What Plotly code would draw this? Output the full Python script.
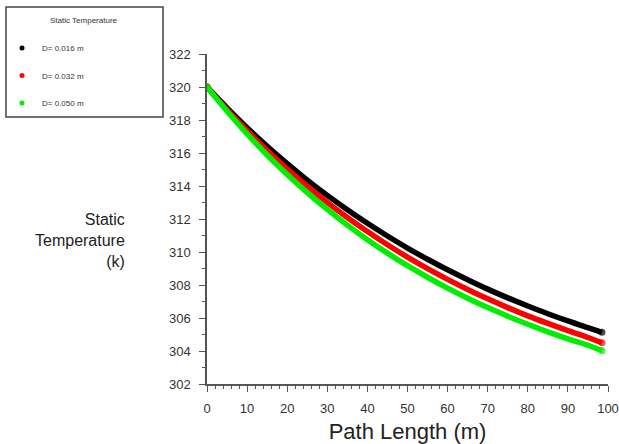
import plotly.graph_objects as go

# Path length along the pipe (m)
path_length = [0, 5, 10, 15, 20, 25, 30, 35, 40, 45, 50, 55, 60, 65, 70, 75, 80, 85, 90, 95, 98.5]

# Static temperature (K) for each pipe diameter
temp_d016 = [320.00, 318.73, 317.53, 316.41, 315.36, 314.36, 313.43, 312.56, 311.74, 310.97,
             310.24, 309.56, 308.92, 308.32, 307.75, 307.22, 306.73, 306.26, 305.82, 305.41, 305.13]
temp_d032 = [320.00, 318.63, 317.35, 316.15, 315.03, 313.99, 313.01, 312.09, 311.24, 310.44,
             309.69, 308.99, 308.34, 307.73, 307.16, 306.63, 306.13, 305.67, 305.23, 304.82, 304.50]
temp_d050 = [320.00, 318.53, 317.16, 315.88, 314.70, 313.60, 312.58, 311.63, 310.75, 309.93,
             309.17, 308.47, 307.81, 307.20, 306.63, 306.11, 305.62, 305.16, 304.74, 304.35, 304.02]

series_names = ["D= 0.016 m", "D= 0.032 m", "D= 0.050 m"]
series_values = [temp_d016, temp_d032, temp_d050]
series_colors = ["#000000", "#ff0000", "#00ee00"]

W, H = 619, 444
ML, MR, MT, MB = 207, 11, 54, 60
PW, PH = W - ML - MR, H - MT - MB


def px_x(p):
    return (p - ML) / PW


def px_y(p):
    return (H - MB - p) / PH


fig = go.Figure()

for name, vals, col in zip(series_names, series_values, series_colors):
    end_sizes = [7] + [0] * (len(vals) - 2) + [7]
    fig.add_trace(go.Scatter(
        x=path_length, y=vals, mode="lines+markers", name=name,
        line=dict(color=col, width=5.5, shape="spline"),
        marker=dict(color=col, size=end_sizes, line=dict(width=0)),
        showlegend=False, hoverinfo="skip",
    ))

# legend entries shown as dots
for i, (name, col) in enumerate(zip(series_names, series_colors)):
    fig.add_trace(go.Scatter(
        x=[None], y=[None], mode="markers", name=name, legendgroup=f"g{i}",
        marker=dict(color=col, size=5), showlegend=True,
    ))

axis_common = dict(
    showline=True, linecolor="#555555", linewidth=1.5, mirror=False,
    showgrid=False, zeroline=False, ticks="outside", ticklen=6, tickwidth=1,
    tickcolor="#555555", tickfont=dict(family="Arial", size=13, color="#333333"),
)

fig.update_xaxes(
    range=[0, 100], tick0=0, dtick=10,
    minor=dict(ticks="outside", ticklen=3, dtick=2, tickcolor="#555555", showgrid=False),
    ticklabelstandoff=6,
    title=dict(text="Path Length (m)", font=dict(family="Arial", size=22, color="#222222"), standoff=8),
    **axis_common,
)
fig.update_yaxes(
    range=[302, 322], tick0=302, dtick=2,
    minor=dict(ticks="outside", ticklen=3, dtick=1, tickcolor="#555555", showgrid=False),
    ticklabelstandoff=6,
    **axis_common,
)

# y-axis caption, horizontal and stacked
fig.add_annotation(
    text="Static<br>Temperature<br>(k)", xref="paper", yref="paper",
    x=px_x(127), y=px_y(240), xanchor="right", yanchor="middle", showarrow=False,
    font=dict(family="Arial", size=16, color="#222222"), align="right",
)

# legend frame and heading
fig.add_shape(
    type="rect", xref="paper", yref="paper",
    x0=px_x(6), x1=px_x(163), y0=px_y(117), y1=px_y(7),
    line=dict(color="#444444", width=1.5), fillcolor="white", layer="below",
)
fig.add_annotation(
    text="Static Temperature", xref="paper", yref="paper",
    x=px_x(84), y=px_y(21), xanchor="center", yanchor="middle", showarrow=False,
    font=dict(family="Arial", size=8, color="#333333"),
)

fig.update_layout(
    width=W, height=H,
    margin=dict(l=ML, r=MR, t=MT, b=MB, autoexpand=False),
    paper_bgcolor="white", plot_bgcolor="white",
    legend=dict(
        x=px_x(2), y=px_y(33.5), xanchor="left", yanchor="top",
        bgcolor="rgba(0,0,0,0)", borderwidth=0,
        font=dict(family="Arial", size=8, color="#333333"),
        tracegroupgap=8.5, traceorder="grouped",
    ),
)

fig.write_html("out.html")
